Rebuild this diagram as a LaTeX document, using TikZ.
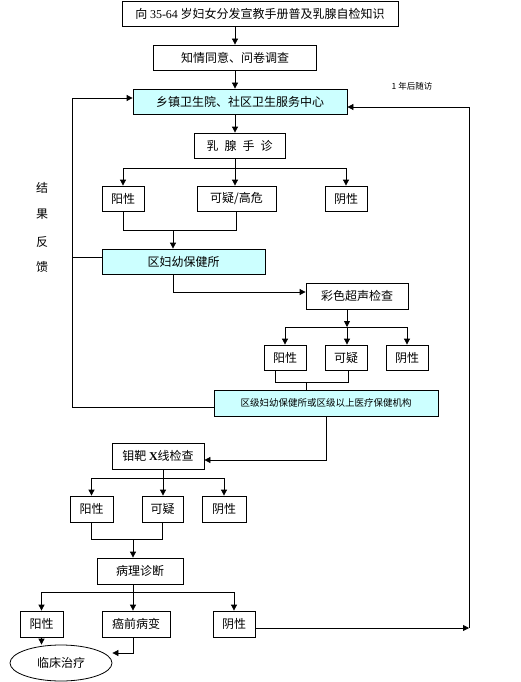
\documentclass[tikz,border=0pt]{standalone}
\usepackage{fontspec}
\setmainfont{Noto Sans CJK SC}
\newfontfamily\serifnum{Liberation Serif}
\usetikzlibrary{arrows.meta,shapes.geometric}
\definecolor{cyanbg}{RGB}{204,255,255}
\begin{document}
\begin{tikzpicture}[x=1pt,y=-1pt,
  line width=0.8pt,
  box/.style={draw, line width=0.8pt, inner sep=0pt, minimum height=25pt, font=\fontsize{12}{14}\selectfont},
  hl/.style={fill=cyanbg},
  arr/.style={-{Triangle[length=6pt,width=6pt]}},
  lbl/.style={inner sep=0pt, font=\fontsize{12}{14}\selectfont}
]
\useasboundingbox (0,0) rectangle (521,682);

% nodes
\node[box, minimum width=276pt] (n1) at (260,13.5) {向 {\serifnum 35-64} 岁妇女分发宣教手册普及乳腺自检知识};
\node[box, minimum width=163pt] (n2) at (235,57.5) {知情同意、问卷调查};
\node[box, hl, minimum width=214pt] (n3) at (240,101.5) {乡镇卫生院、社区卫生服务中心};
\node[box, minimum width=91pt] (n4) at (239.5,145.5) {乳\hspace{6pt}腺\hspace{6pt}手\hspace{6pt}诊};
\node[box, minimum width=42pt] (a1) at (123,198.5) {阳性};
\node[box, minimum width=79pt] (a2) at (236.5,198.5) {可疑/高危};
\node[box, minimum width=42pt] (a3) at (346,198.5) {阴性};
\node[box, hl, minimum width=163pt] (n5) at (183.5,261.5) {区妇幼保健所};
\node[box, minimum width=102pt, minimum height=26pt] (n6) at (357,296) {彩色超声检查};
\node[box, minimum width=42pt] (b1) at (285,357.5) {阳性};
\node[box, minimum width=42pt] (b2) at (346,357.5) {可疑};
\node[box, minimum width=42pt] (b3) at (407,357.5) {阴性};
\node[box, hl, minimum width=224pt, minimum height=26pt, font=\fontsize{9.5}{11}\selectfont] (n7) at (326,403) {区级妇幼保健所或区级以上医疗保健机构};
\node[box, minimum width=92pt, minimum height=26pt] (n8) at (158,456) {钼靶 {\serifnum\bfseries X}线检查};
\node[box, minimum width=43pt, minimum height=26pt] (c1) at (91.5,509) {阳性};
\node[box, minimum width=41pt, minimum height=26pt] (c2) at (162.5,509) {可疑};
\node[box, minimum width=44pt, minimum height=26pt] (c3) at (224,509) {阴性};
\node[box, minimum width=86pt, minimum height=26pt] (n9) at (140,571) {病理诊断};
\node[box, minimum width=43pt, minimum height=26pt] (d1) at (41.5,624) {阳性};
\node[box, minimum width=68pt, minimum height=26pt] (d2) at (136,624) {癌前病变};
\node[box, minimum width=42pt, minimum height=26pt] (d3) at (234,624) {阴性};
\node[draw, ellipse, inner sep=0pt, minimum width=102pt, minimum height=36pt, font=\fontsize{12}{14}\selectfont] (e) at (61,663) {临床治疗};

\node[inner sep=0pt, font=\fontsize{8.5}{10}\selectfont] (fu) at (412,86) {1 年后随访};
\node[lbl] (k1) at (42,188) {结};
\node[lbl] (k2) at (42,214) {果};
\node[lbl] (k3) at (42,242) {反};
\node[lbl] (k4) at (42,267) {馈};

% coordinates
\coordinate (br1) at (235,168);
\coordinate (m1) at (173,230);
\coordinate (c6) at (173,292);
\coordinate (br2) at (347,327);
\coordinate (m2) at (306,382);
\coordinate (m2l) at (275,382);
\coordinate (m2r) at (348,382);
\coordinate (fb) at (72,407);
\coordinate (fbt) at (72,98);
\coordinate (fb2) at (72,257);
\coordinate (c8) at (326,460);
\coordinate (br3) at (163,478);
\coordinate (m3) at (133,539);
\coordinate (br4) at (133,592);
\coordinate (c9) at (133,653);
\coordinate (rt) at (469,628);
\coordinate (rtop) at (469,107);

% connectors
\draw[arr] (n2.north |- n1.south) -- (n2.north);
\draw[arr] (n2.south) -- (n2.south |- n3.north);
\draw[arr] (n2.south |- n3.south) -- (n2.south |- n4.north);
\draw (br1 |- n4.south) -- (br1);
\draw (br1 -| a1.north) -- (br1 -| a3.north);
\draw[arr] (br1 -| a1.north) -- (a1.north);
\draw[arr] (br1) -- (br1 |- a2.north);
\draw[arr] (br1 -| a3.north) -- (a3.north);

\draw (a1.south) -- (a1.south |- m1) -- (a2.south |- m1) -- (a2.south);
\draw[arr] (m1) -- (m1 |- n5.north);
\draw[arr] (m1 |- n5.south) -- (c6) -- (c6 -| n6.west);

\draw[arr] (br2 |- n6.south) -- (br2);
\draw (br2 -| b1.north) -- (br2 -| b3.north);
\draw[arr] (br2 -| b1.north) -- (b1.north);
\draw[arr] (br2) -- (br2 |- b2.north);
\draw[arr] (br2 -| b3.north) -- (b3.north);

\draw (m2l |- b1.south) -- (m2l) -- (m2r) -- (m2r |- b2.south);
\draw (m2) -- (m2 |- n7.north);

\draw (n7.west |- fb) -- (fb) -- (fbt);
\draw[arr] (fbt) -- (fbt -| n3.west);
\draw (n5.west |- fb2) -- (fb2);

\draw[arr] (c8 |- n7.south) -- (c8) -- (c8 -| n8.east);

\draw (br3 |- n8.south) -- (br3);
\draw (br3 -| c1.north) -- (br3 -| c3.north);
\draw[arr] (br3 -| c1.north) -- (c1.north);
\draw[arr] (br3) -- (br3 |- c2.north);
\draw[arr] (br3 -| c3.north) -- (c3.north);

\draw (c1.south) -- (c1.south |- m3) -- (c2.south |- m3) -- (c2.south);
\draw[arr] (m3) -- (m3 |- n9.north);

\draw (br4 |- n9.south) -- (br4);
\draw (br4 -| d1.north) -- (br4 -| d3.north);
\draw[arr] (br4 -| d1.north) -- (d1.north);
\draw[arr] (br4) -- (br4 |- d2.north);
\draw[arr] (br4 -| d3.north) -- (d3.north);

\draw[arr] (d1.south) -- (d1.south |- e.north);
\draw[arr] (c9 |- d2.south) -- (c9) -- (c9 -| e.east);

\draw[arr] (d3.east |- rt) -- (rt);
\draw (rt) -- (rtop);
\draw[arr] (rtop) -- (rtop -| n3.east);
\end{tikzpicture}
\end{document}
